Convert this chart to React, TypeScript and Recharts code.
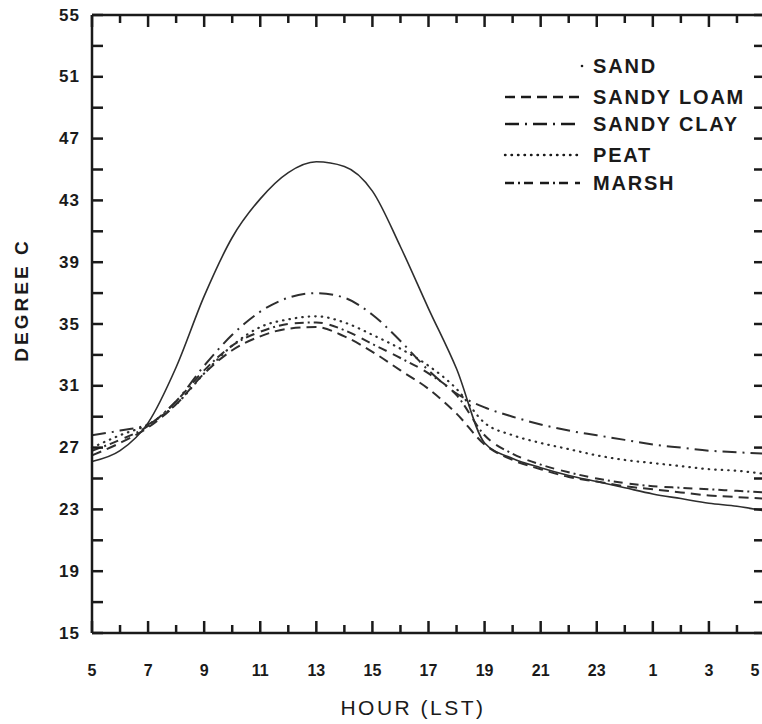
import React from 'react'
import { LineChart, Line, XAxis, YAxis, Legend } from 'recharts'

const FONT = '"Liberation Sans", Arial, Helvetica, sans-serif'
const INK = '#1a1a1a'
const LINE = '#2e2e2e'

// hour of day, 5 LST through 5 LST of the next day (25..29 = 1..5)
const hours = [5, 6, 7, 8, 9, 10, 11, 12, 13, 14, 15, 16, 17, 18, 19, 20, 21, 22, 23, 24, 25, 26, 27, 28, 29]
const degreeTicks = [15, 17, 19, 21, 23, 25, 27, 29, 31, 33, 35, 37, 39, 41, 43, 45, 47, 49, 51, 53, 55]

const sand = [26.1, 26.8, 28.6, 32.2, 36.8, 40.6, 43.1, 44.8, 45.5, 45.2, 43.6, 40.0, 36.0, 32.1, 27.3, 26.3, 25.7, 25.2, 24.8, 24.4, 24.0, 23.7, 23.4, 23.2, 22.9]
const sandyLoam = [26.5, 27.3, 28.3, 29.8, 31.8, 33.3, 34.2, 34.7, 34.8, 34.2, 33.2, 32.0, 30.8, 29.2, 27.2, 26.2, 25.6, 25.1, 24.8, 24.5, 24.3, 24.1, 23.9, 23.8, 23.7]
const sandyClay = [27.8, 28.1, 28.5, 30.0, 32.3, 34.3, 35.8, 36.7, 37.0, 36.7, 35.6, 33.9, 32.0, 30.5, 29.6, 29.0, 28.5, 28.1, 27.8, 27.5, 27.2, 27.0, 26.8, 26.7, 26.6]
const peat = [27.0, 27.8, 28.5, 29.8, 31.8, 33.6, 34.8, 35.3, 35.5, 35.1, 34.3, 33.4, 32.3, 30.8, 28.6, 27.8, 27.3, 26.9, 26.5, 26.2, 26.0, 25.8, 25.6, 25.5, 25.3]
const marsh = [26.8, 27.5, 28.4, 30.0, 32.0, 33.6, 34.5, 35.0, 35.1, 34.6, 33.7, 32.8, 31.8, 30.4, 27.8, 26.6, 25.9, 25.4, 25.0, 24.7, 24.5, 24.4, 24.3, 24.2, 24.1]

const series = [
  { key: 'sand', name: 'SAND', dash: undefined as string | undefined, width: 1.6, cap: 'butt' },
  { key: 'sandyLoam', name: 'SANDY LOAM', dash: '10 6', width: 2, cap: 'butt' },
  { key: 'sandyClay', name: 'SANDY CLAY', dash: '14 6 2 6', width: 2, cap: 'butt' },
  { key: 'peat', name: 'PEAT', dash: '0.5 6', width: 2.2, cap: 'round' },
  { key: 'marsh', name: 'MARSH', dash: '9 4 2 4 9 7', width: 2, cap: 'butt' },
]

const data = hours.map((h, i) => ({
  hour: h,
  sand: sand[i],
  sandyLoam: sandyLoam[i],
  sandyClay: sandyClay[i],
  peat: peat[i],
  marsh: marsh[i],
}))

const hourLabel = (h: number) => String(h > 24 ? h - 24 : h)

function LeftTick(props: any) {
  const { x, y, payload } = props
  const ax = x + 12
  const labeled = (payload.value - 15) % 4 === 0
  return (
    <g>
      <line x1={ax} x2={ax + 11} y1={y} y2={y} stroke={INK} strokeWidth={2.5} />
      {labeled && (
        <text x={x} y={y} textAnchor="end" dominantBaseline="central" fontFamily={FONT} fontWeight="bold" fontSize={17} letterSpacing={1} fill={INK}>
          {payload.value}
        </text>
      )}
    </g>
  )
}

function RightTick(props: any) {
  const { x, y } = props
  return <line x1={x} x2={x - 11} y1={y} y2={y} stroke={INK} strokeWidth={2.5} />
}

function TopTick(props: any) {
  const { x, y, payload } = props
  const len = payload.value % 2 === 1 ? 12 : 8
  return <line x1={x} x2={x} y1={y} y2={y + len} stroke={INK} strokeWidth={2.5} />
}

function BottomTick(props: any) {
  const { x, y, payload } = props
  const major = payload.value % 2 === 1
  // keep the last label inside the page edge
  const tx = Math.min(x, 755)
  return (
    <g>
      <line x1={x} x2={x} y1={y} y2={y - (major ? 12 : 8)} stroke={INK} strokeWidth={2.5} />
      {major && (
        <text x={tx} y={y + 37} textAnchor="middle" dominantBaseline="central" fontFamily={FONT} fontWeight="bold" fontSize={16} fill={INK}>
          {hourLabel(payload.value)}
        </text>
      )}
    </g>
  )
}

const legendRows = [66, 97, 124, 155, 183]

function LegendBox() {
  const top = 45
  const left = 500
  return (
    <svg width={262} height={160} style={{ display: 'block' }}>
      {series.map((s, i) => {
        const y = legendRows[i] - top
        return (
          <g key={s.key}>
            {s.dash === undefined ? (
              <circle cx={582 - left} cy={y} r={1.3} fill={INK} />
            ) : (
              <line
                x1={505 - left}
                x2={580 - left}
                y1={y}
                y2={y}
                stroke={INK}
                strokeWidth={2.4}
                strokeDasharray={s.dash}
                strokeLinecap={s.cap as any}
              />
            )}
            <text x={593 - left} y={y} dominantBaseline="central" fontFamily={FONT} fontWeight="bold" fontSize={20} letterSpacing={1.8} fill={INK}>
              {s.name}
            </text>
          </g>
        )
      })}
    </svg>
  )
}

export default function App() {
  return (
    <div style={{ position: 'absolute', left: 0, top: 0, width: 762, height: 724, background: '#fff', overflow: 'hidden' }}>
      <LineChart width={762} height={724} data={data} margin={{ top: 13, right: -5, bottom: 31, left: 42 }}>
        <XAxis
          xAxisId="bottom"
          dataKey="hour"
          type="number"
          domain={[5, 29]}
          ticks={hours}
          interval={0}
          height={60}
          tickSize={0}
          tickMargin={0}
          tickLine={false}
          axisLine={{ stroke: INK, strokeWidth: 2.5 }}
          tick={<BottomTick />}
        />
        <XAxis
          xAxisId="top"
          orientation="top"
          dataKey="hour"
          type="number"
          domain={[5, 29]}
          ticks={hours}
          interval={0}
          height={2}
          tickSize={0}
          tickMargin={0}
          tickLine={false}
          axisLine={{ stroke: INK, strokeWidth: 2.5 }}
          tick={<TopTick />}
        />
        <YAxis
          yAxisId="left"
          type="number"
          domain={[15, 55]}
          ticks={degreeTicks}
          interval={0}
          width={50}
          tickSize={0}
          tickMargin={12}
          tickLine={false}
          axisLine={{ stroke: INK, strokeWidth: 2.5 }}
          tick={<LeftTick />}
        />
        <YAxis
          yAxisId="right"
          orientation="right"
          type="number"
          domain={[15, 55]}
          ticks={degreeTicks}
          interval={0}
          width={2}
          tickSize={0}
          tickMargin={0}
          tickLine={false}
          axisLine={{ stroke: INK, strokeWidth: 2.5 }}
          tick={<RightTick />}
        />
        <Legend
          layout="horizontal"
          verticalAlign="middle"
          align="center"
          content={<LegendBox />}
          wrapperStyle={{ position: 'absolute', left: 500, top: 45, width: 262, height: 160 }}
        />
        {series.map((s) => (
          <Line
            key={s.key}
            xAxisId="bottom"
            yAxisId="left"
            type="monotone"
            dataKey={s.key}
            name={s.name}
            stroke={LINE}
            strokeWidth={s.width}
            strokeDasharray={s.dash}
            strokeLinecap={s.cap as any}
            dot={false}
            activeDot={false}
            isAnimationActive={false}
          />
        ))}
        {/* invisible series so the top and right axes get a domain */}
        <Line xAxisId="top" yAxisId="right" dataKey="sand" stroke="none" dot={false} activeDot={false} legendType="none" isAnimationActive={false} />
      </LineChart>
      <div
        style={{
          position: 'absolute',
          left: 22,
          top: 300,
          transform: 'translate(-50%, -50%) rotate(-90deg)',
          fontFamily: FONT,
          fontWeight: 'bold',
          fontSize: 19,
          letterSpacing: 3,
          whiteSpace: 'nowrap',
          color: INK,
        }}
      >
        DEGREE C
      </div>
      <div
        style={{
          position: 'absolute',
          left: 413,
          top: 708,
          transform: 'translate(-50%, -50%)',
          fontFamily: FONT,
          fontSize: 21,
          letterSpacing: 2.5,
          whiteSpace: 'nowrap',
          color: INK,
        }}
      >
        HOUR (LST)
      </div>
    </div>
  )
}
